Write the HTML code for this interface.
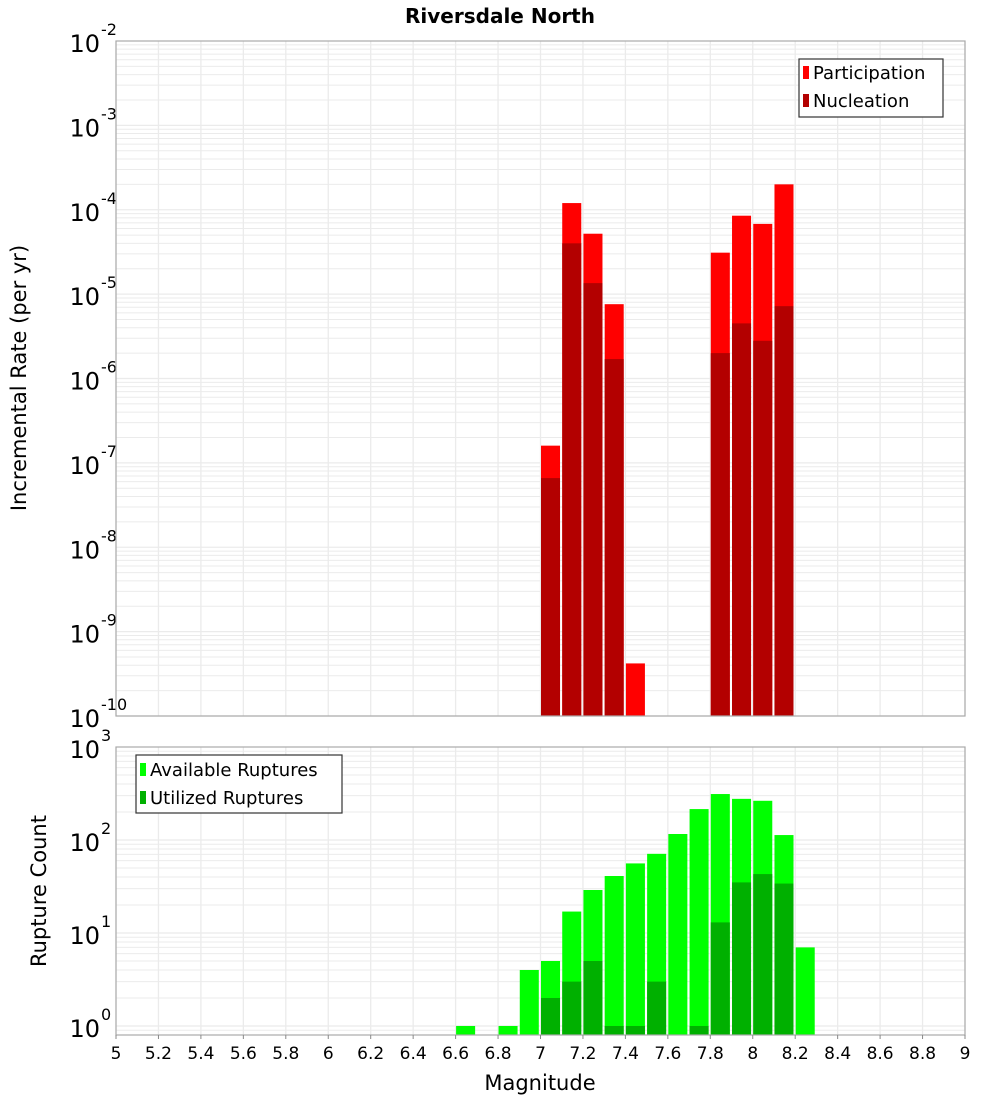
<!DOCTYPE html>
<html><head><meta charset="utf-8"><style>
body{margin:0;background:#fff;}
svg{display:block;font-family:"DejaVu Sans","Liberation Sans",sans-serif;}
</style></head><body>
<svg id="chart" width="1000" height="1100" xmlns="http://www.w3.org/2000/svg">
<text x="500" y="23" text-anchor="middle" font-size="20" font-weight="bold">Riversdale North</text>
<g id="topG"></g>
<g id="botG"></g>
<text transform="translate(26,378) rotate(-90)" text-anchor="middle" font-size="21">Incremental Rate (per yr)</text>
<text transform="translate(46,891) rotate(-90)" text-anchor="middle" font-size="21">Rupture Count</text>
<text x="540" y="1090" text-anchor="middle" font-size="21">Magnitude</text>
<g>
<rect x="799" y="59" width="144" height="58" fill="#fff" stroke="#333" stroke-width="1.2"/>
<rect x="803" y="66" width="6" height="13" fill="#ff0000"/>
<text x="813" y="79" font-size="18">Participation</text>
<rect x="803" y="94" width="6" height="13" fill="#b30000"/>
<text x="813" y="107" font-size="18">Nucleation</text>
</g>
<g>
<rect x="136" y="755" width="206" height="58" fill="#fff" stroke="#333" stroke-width="1.2"/>
<rect x="140" y="763" width="6" height="13" fill="#00ff00"/>
<text x="150" y="776" font-size="18">Available Ruptures</text>
<rect x="140" y="791" width="6" height="13" fill="#00b000"/>
<text x="150" y="804" font-size="18">Utilized Ruptures</text>
</g>
</svg>
<script>
const magBins=[7.0,7.1,7.2,7.3,7.4,7.8,7.9,8.0,8.1];
const participation=[1.6e-7,1.2e-4,5.2e-5,7.6e-6,4.2e-10,3.1e-5,8.5e-5,6.8e-5,2.0e-4];
const nucleation=[6.6e-8,4.0e-5,1.35e-5,1.7e-6,0,2.0e-6,4.5e-6,2.8e-6,7.2e-6];
const countBins=[6.6,6.8,6.9,7.0,7.1,7.2,7.3,7.4,7.5,7.6,7.7,7.8,7.9,8.0,8.1,8.2];
const available=[1,1,4,5,17,29,41,56,71,116,215,312,277,264,113,7];
const utilized=[0,0,0,2,3,5,1,1,3,0,1,13,35,43,34,0];
const xTicks=[5,5.2,5.4,5.6,5.8,6,6.2,6.4,6.6,6.8,7,7.2,7.4,7.6,7.8,8,8.2,8.4,8.6,8.8,9];

const NS='http://www.w3.org/2000/svg';
const L=116,R=965;
const xs=m=>L+(m-5)/4*(R-L);
function mk(p,t,a){const e=document.createElementNS(NS,t);for(const k in a)e.setAttribute(k,a[k]);p.appendChild(e);return e;}
function panel(g,yTop,yBot,lmin,lmax){
  const ys=v=>yBot-(Math.log10(v)-lmin)/(lmax-lmin)*(yBot-yTop);
  mk(g,'rect',{x:L,y:yTop,width:R-L,height:yBot-yTop,fill:'#fff'});
  for(let d=Math.floor(lmin);d<lmax;d++)for(let k=1;k<10;k++){const v=k*Math.pow(10,d);const lv=Math.log10(v);if(lv<lmin||lv>lmax)continue;
    const y=ys(v);const gl=mk(g,'line',{x1:L,x2:R,y1:y,y2:y,stroke:'#ebebeb','stroke-width':k==1?1.3:1});
    
    }
  xTicks.forEach(t=>{const x=xs(t);const gl=mk(g,'line',{x1:x,x2:x,y1:yTop,y2:yBot,stroke:'#ebebeb','stroke-width':1.3});
    
    });
  for(let d=Math.ceil(lmin);d<=Math.floor(lmax);d++){const y=ys(Math.pow(10,d));
    const t=mk(g,'text',{x:100,y:y+11,'text-anchor':'end','font-size':24});t.textContent='10';
    
    
    const s=mk(g,'text',{x:101,y:y-6,'font-size':16});s.textContent=String(d);
    
    }
  return ys;
}
const topG=document.getElementById('topG'),botG=document.getElementById('botG');
const ys1=panel(topG,41,716,-10,-2);
const bw=xs(5.1)-xs(5)-2.2;
magBins.forEach((m,i)=>{
  const x=xs(m)+0.5;
  if(participation[i]>0){const r=mk(topG,'rect',{x:x,y:ys1(participation[i]),width:bw,height:716-ys1(participation[i]),fill:'#ff0000'});
    
    }
  if(nucleation[i]>0){const r=mk(topG,'rect',{x:x,y:ys1(nucleation[i]),width:bw,height:716-ys1(nucleation[i]),fill:'#b30000'});
    
    }
});
mk(topG,'rect',{x:L,y:41,width:R-L,height:675,fill:'none',stroke:'#aaa','stroke-width':1.2});
const ys2=panel(botG,747,1035,-0.097,3);
countBins.forEach((m,i)=>{
  const x=xs(m)+0.5;
  if(available[i]>0){const r=mk(botG,'rect',{x:x,y:ys2(available[i]),width:bw,height:1035-ys2(available[i]),fill:'#00ff00'});
    
    }
  if(utilized[i]>0){const r=mk(botG,'rect',{x:x,y:ys2(utilized[i]),width:bw,height:1035-ys2(utilized[i]),fill:'#00b000'});
    
    }
});
mk(botG,'rect',{x:L,y:747,width:R-L,height:288,fill:'none',stroke:'#aaa','stroke-width':1.2});
xTicks.forEach(t=>{const x=xs(t);
  const tk=mk(botG,'line',{x1:x,x2:x,y1:1035,y2:1039,stroke:'#888'});
  
  
  const lb=mk(botG,'text',{x:x,y:1059,'text-anchor':'middle','font-size':17});lb.textContent=String(t);
  
  });
</script>
</body></html>
